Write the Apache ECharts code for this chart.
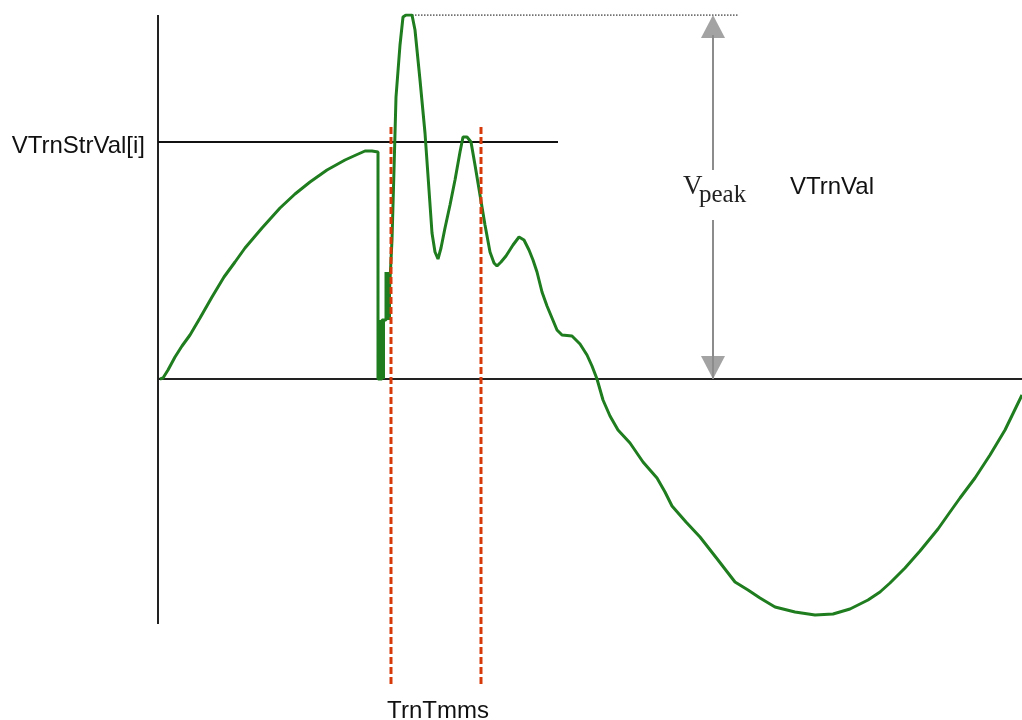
<!DOCTYPE html>
<html>
<head>
<meta charset="utf-8">
<script src="https://cdn.jsdelivr.net/npm/echarts@6/dist/echarts.min.js"></script>
<style>
html,body{margin:0;padding:0;background:#fff;}
#chart{width:1022px;height:720px;}
</style>
</head>
<body>
<div id="chart"></div>
<script>
// Waveform samples (time units, voltage units; 0 V = reference line)
const curveT = [2,5,10,17,24,32,42,54,66,77,87,104,122,137,152,169,187,198,207,214,220,
  220,224,224,228,228,230,230,234,236,238,242,245,248,254,257,262,267,271,274,277,280,283,287,292,297,302,305,309,313,317,322,327,332,336,339,343,348,355,361,366,371,375,379,384,389,394,399,404,414,422,429,434,
  439,445,452,460,472,485,499,507,514,528,542,560,577,590,602,617,637,657,675,692,710,722,732,747,762,780,792,802,817,832,847,864];
const curveV = [0,1,9,22,33,44,61,82,102,117,131,151,171,185,197,209,219,224,228,228,227,
  0,0,59,59,107,107,59,139,209,282,334,362,364,364,349,299,246,189,146,127,120,131,151,174,199,227,242,242,237,214,184,154,127,116,113,117,123,134,142,139,129,119,107,87,73,61,49,44,43,35,24,13,
  0,-21,-37,-51,-64,-83,-99,-113,-127,-143,-158,-181,-203,-211,-219,-228,-233,-236,-235,-230,-221,-213,-204,-189,-172,-150,-133,-119,-99,-76,-51,-16];

// Dense switching burst just after the drop (time, low, high)
const burstT = [223.5, 230];
const burstLow = [0, 59];
const burstHigh = [59, 107];

// Reference levels / times
const axisTop = 364, axisBottom = -245;
const vTrnStrVal = 237, strLineEnd = 400;
const vPeak = 364, peakLineStart = 254, peakLineEnd = 580;
const trnTimes = [233, 323], trnTop = 252, trnBottom = -306;
const vpeakX = 555, vpeakGapLow = 159, vpeakGapHigh = 209;

const curveData = curveT.map((t, i) => [t, curveV[i]]);
const burstWidths = [7, 6];

const chart = echarts.init(document.getElementById('chart'));
const lineSeries = (data, color, width, type, z) => ({
  type: 'line', data: data, showSymbol: false, symbol: 'none', silent: true,
  lineStyle: { color: color, width: width, type: type || 'solid', cap: 'butt' }, z: z || 2
});
const burstSeries = burstT.map((t, i) =>
  lineSeries([[t, burstLow[i]], [t, burstHigh[i]]], '#1f7d1f', burstWidths[i], 'solid', 5));

const option = {
  backgroundColor: '#ffffff',
  animation: false,
  grid: { left: 158, top: 15, width: 864, height: 685 },
  xAxis: {
    type: 'value', min: 0, max: 864,
    axisLine: { show: true, onZero: true, lineStyle: { color: '#222', width: 2 } },
    axisTick: { show: false }, axisLabel: { show: false }, splitLine: { show: false }
  },
  yAxis: {
    type: 'value', min: -321, max: 364,
    axisLine: { show: false }, axisTick: { show: false }, axisLabel: { show: false }, splitLine: { show: false }
  },
  series: [
    lineSeries([[0, axisTop], [0, axisBottom]], '#222', 2),
    lineSeries([[0, vTrnStrVal], [strLineEnd, vTrnStrVal]], '#111', 2),
    lineSeries([[peakLineStart, vPeak], [peakLineEnd, vPeak]], '#444', 1.5, 'dotted'),
    lineSeries([[vpeakX, 0], [vpeakX, vpeakGapLow]], '#8c8c8c', 2),
    lineSeries([[vpeakX, vpeakGapHigh], [vpeakX, vPeak - 20]], '#8c8c8c', 2),
    lineSeries(curveData, '#1f7d1f', 3, 'solid', 5),
    ...burstSeries,
    lineSeries([[trnTimes[0], trnTop], [trnTimes[0], trnBottom]], '#d63a0a', 3, [7, 3], 6),
    lineSeries([[trnTimes[1], trnTop], [trnTimes[1], trnBottom]], '#d63a0a', 3, [7, 3], 6),
    {
      type: 'scatter', silent: true, symbol: 'triangle', symbolSize: [24, 23],
      itemStyle: { color: '#8c8c8c' }, data: [[vpeakX, vPeak - 11.5]], z: 3
    },
    {
      type: 'scatter', silent: true, symbol: 'triangle', symbolSize: [24, 23], symbolRotate: 180,
      itemStyle: { color: '#8c8c8c' }, data: [[vpeakX, 11.5]], z: 3
    }
  ],
  graphic: [
    { type: 'text', x: 145, y: 146, style: { text: 'VTrnStrVal[i]', font: '24px "Liberation Sans", Arial, sans-serif', fill: '#111', align: 'right', verticalAlign: 'middle' } },
    { type: 'text', x: 790, y: 187, style: { text: 'VTrnVal', font: '24px "Liberation Sans", Arial, sans-serif', fill: '#111', align: 'left', verticalAlign: 'middle' } },
    { type: 'text', x: 438, y: 711, style: { text: 'TrnTmms', font: '24px "Liberation Sans", Arial, sans-serif', fill: '#111', align: 'center', verticalAlign: 'middle' } },
    { type: 'text', x: 683, y: 187, style: { text: 'V', font: '27px "Liberation Serif", "Times New Roman", serif', fill: '#222', align: 'left', verticalAlign: 'middle' } },
    { type: 'text', x: 699, y: 195, style: { text: 'peak', font: '25px "Liberation Serif", "Times New Roman", serif', fill: '#222', align: 'left', verticalAlign: 'middle' } }
  ]
};
chart.setOption(option);
</script>
</body>
</html>
